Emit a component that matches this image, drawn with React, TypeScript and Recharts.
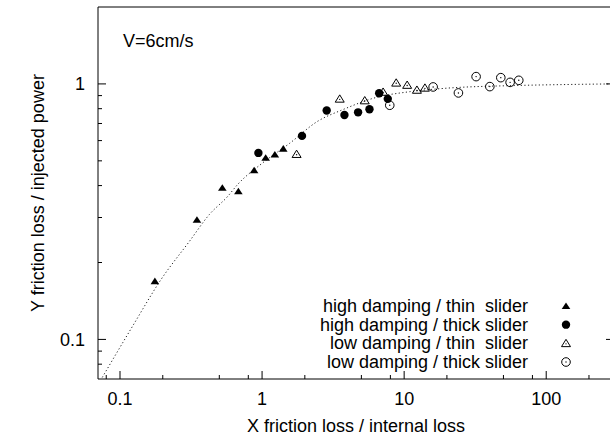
import { ComposedChart, Line, Scatter, XAxis, YAxis } from 'recharts'

const FONT = '"Liberation Sans", Arial, Helvetica, sans-serif'
const FS = 18

// values (log-log)
const highThinX = [0.176, 0.348, 0.525, 0.681, 0.879, 1.06, 1.23, 1.41]
const highThinY = [0.169, 0.294, 0.392, 0.38, 0.459, 0.514, 0.529, 0.558]

const highThickX = [0.942, 1.91, 2.85, 3.8, 4.74, 5.7, 6.67, 7.67]
const highThickY = [0.537, 0.626, 0.787, 0.756, 0.774, 0.796, 0.919, 0.874]

const lowThinX = [1.75, 3.52, 5.28, 7.11, 8.79, 10.5, 12.3, 14.0]
const lowThinY = [0.531, 0.874, 0.861, 0.93, 1.01, 0.99, 0.947, 0.965]

const lowThickX = [7.92, 16.0, 24.1, 32.1, 40.1, 47.9, 55.7, 64.1]
const lowThickY = [0.825, 0.973, 0.922, 1.068, 0.976, 1.058, 1.014, 1.033]

// dotted guide curve
const curveX = [0.075, 0.123, 0.195, 0.308, 0.425, 0.573, 0.673, 1.01, 1.56, 2.46, 3.7, 6.35, 10.9, 19.8, 58, 131, 290]
const curveY = [0.071, 0.113, 0.172, 0.242, 0.308, 0.363, 0.404, 0.491, 0.585, 0.714, 0.793, 0.885, 0.932, 0.962, 0.985, 0.994, 1.0]

const X_MAJOR = [0.1, 1, 10, 100]
const X_MINOR = [0.08, 0.2, 0.5, 0.8, 2, 5, 8, 20, 50, 80, 200]
const Y_MAJOR = [0.1, 1]
const Y_MINOR = [0.08, 0.09, 0.2, 0.3, 0.4, 0.5, 0.6, 0.7, 0.8, 0.9]

const LEGEND = [
  'high damping / thin  slider',
  'high damping / thick slider',
  'low damping / thin  slider',
  'low damping / thick slider',
]

const X_TITLE = 'X friction loss / internal loss'
const Y_TITLE = 'Y friction loss / injected power'

const toPoints = (xs: number[], ys: number[]) => xs.map((x, i) => ({ x, y: ys[i] }))

const xTicks = [...X_MAJOR, ...X_MINOR].sort((a, b) => a - b)
const yTicks = [...Y_MAJOR, ...Y_MINOR].sort((a, b) => a - b)

function FilledTriangle({ cx, cy }: any) {
  return <polygon points={`${cx},${cy - 3.6} ${cx - 4.3},${cy + 3} ${cx + 4.3},${cy + 3}`} fill="#000" />
}
function FilledCircle({ cx, cy }: any) {
  return <circle cx={cx} cy={cy} r={4.2} fill="#000" />
}
function OpenTriangle({ cx, cy }: any) {
  return (
    <g>
      <polygon points={`${cx},${cy - 4} ${cx - 4.5},${cy + 3.3} ${cx + 4.5},${cy + 3.3}`} fill="none" stroke="#000" strokeWidth={1} />
      <circle cx={cx} cy={cy + 0.5} r={0.7} fill="#000" />
    </g>
  )
}
function OpenCircle({ cx, cy }: any) {
  return (
    <g>
      <circle cx={cx} cy={cy} r={4.3} fill="none" stroke="#000" strokeWidth={1} />
      <circle cx={cx} cy={cy} r={0.7} fill="#000" />
    </g>
  )
}

const SHAPES = [FilledTriangle, FilledCircle, OpenTriangle, OpenCircle]

function BottomTick({ x, y, payload }: any) {
  const major = X_MAJOR.includes(payload.value)
  return (
    <g>
      <line x1={x} y1={y} x2={x} y2={y - (major ? 8 : 4)} stroke="#000" />
      {major && (
        <text x={x} y={y + 26} textAnchor="middle" fontSize={FS} fontFamily={FONT} fill="#000">
          {String(payload.value)}
        </text>
      )}
    </g>
  )
}
function TopTick({ x, y, payload }: any) {
  const major = X_MAJOR.includes(payload.value)
  return <line x1={x} y1={y} x2={x} y2={y + (major ? 8 : 4)} stroke="#000" />
}
function LeftTick({ x, y, payload }: any) {
  const major = Y_MAJOR.includes(payload.value)
  return (
    <g>
      <line x1={x} y1={y} x2={x + (major ? 8 : 4)} y2={y} stroke="#000" />
      {major && (
        <text x={x - 13} y={y + 6.4} textAnchor="end" fontSize={FS} fontFamily={FONT} fill="#000">
          {String(payload.value)}
        </text>
      )}
    </g>
  )
}
function RightTick({ x, y, payload }: any) {
  const major = Y_MAJOR.includes(payload.value)
  return <line x1={x} y1={y} x2={x - (major ? 8 : 4)} y2={y} stroke="#000" />
}

// axis titles ignore the props recharts passes and sit where the reference has them
function XTitle() {
  return (
    <text x={356} y={432} textAnchor="middle" fontSize={FS} fontFamily={FONT} fill="#000">
      {X_TITLE}
    </text>
  )
}
function YTitle() {
  return (
    <text x={44} y={193} transform="rotate(-90 44 193)" textAnchor="middle" fontSize={FS} fontFamily={FONT} fill="#000">
      {Y_TITLE}
    </text>
  )
}

export default function App() {
  const series = [
    toPoints(highThinX, highThinY),
    toPoints(highThickX, highThickY),
    toPoints(lowThinX, lowThinY),
    toPoints(lowThickX, lowThickY),
  ]
  return (
    <div style={{ position: 'absolute', left: 0, top: 0, width: 610, height: 438, overflow: 'hidden', background: '#fff' }}>
      <ComposedChart width={620} height={438} margin={{ top: 0, right: 0, bottom: 0, left: 0 }}>
        <XAxis
          xAxisId="b"
          dataKey="x"
          type="number"
          scale="log"
          domain={[0.07, 300]}
          allowDataOverflow
          ticks={xTicks}
          interval={0}
          tick={<BottomTick />}
          tickLine={false}
          tickSize={0}
          tickMargin={0}
          height={59}
          axisLine={{ stroke: '#000' }}
          label={{ content: XTitle }}
        />
        <XAxis
          xAxisId="t"
          orientation="top"
          type="number"
          scale="log"
          domain={[0.07, 300]}
          allowDataOverflow
          ticks={xTicks}
          interval={0}
          tick={<TopTick />}
          tickLine={false}
          tickSize={0}
          tickMargin={0}
          height={7}
          axisLine={{ stroke: '#000' }}
        />
        <YAxis
          yAxisId="l"
          dataKey="y"
          type="number"
          scale="log"
          domain={[0.07, 2]}
          allowDataOverflow
          ticks={yTicks}
          interval={0}
          tick={<LeftTick />}
          tickLine={false}
          tickSize={0}
          tickMargin={0}
          width={98}
          axisLine={{ stroke: '#000' }}
          label={{ content: YTitle }}
        />
        <YAxis
          yAxisId="r"
          orientation="right"
          type="number"
          scale="log"
          domain={[0.07, 2]}
          allowDataOverflow
          ticks={yTicks}
          interval={0}
          tick={<RightTick />}
          tickLine={false}
          tickSize={0}
          tickMargin={0}
          width={6}
          axisLine={{ stroke: '#000' }}
        />
        <Line
          xAxisId="b"
          yAxisId="l"
          data={toPoints(curveX, curveY)}
          dataKey="y"
          type="monotone"
          stroke="#222"
          strokeWidth={1}
          strokeDasharray="1.2 2.4"
          dot={false}
          activeDot={false}
          isAnimationActive={false}
        />
        {series.map((data, i) => (
          <Scatter
            key={LEGEND[i]}
            name={LEGEND[i]}
            xAxisId="b"
            yAxisId="l"
            data={data}
            dataKey="y"
            shape={SHAPES[i]}
            isAnimationActive={false}
          />
        ))}
        <text x={123} y={47} fontSize={FS} fontFamily={FONT} fill="#000">V=6cm/s</text>
        {LEGEND.map((name, i) => {
          const Sym = SHAPES[i]
          const base = 312 + i * 18.67
          return (
            <g key={name}>
              <text x={528} y={base} textAnchor="end" fontSize={FS} fontFamily={FONT} fill="#000" style={{ whiteSpace: 'pre' }}>
                {name}
              </text>
              <Sym cx={566} cy={base - 6} />
            </g>
          )
        })}
      </ComposedChart>
    </div>
  )
}
